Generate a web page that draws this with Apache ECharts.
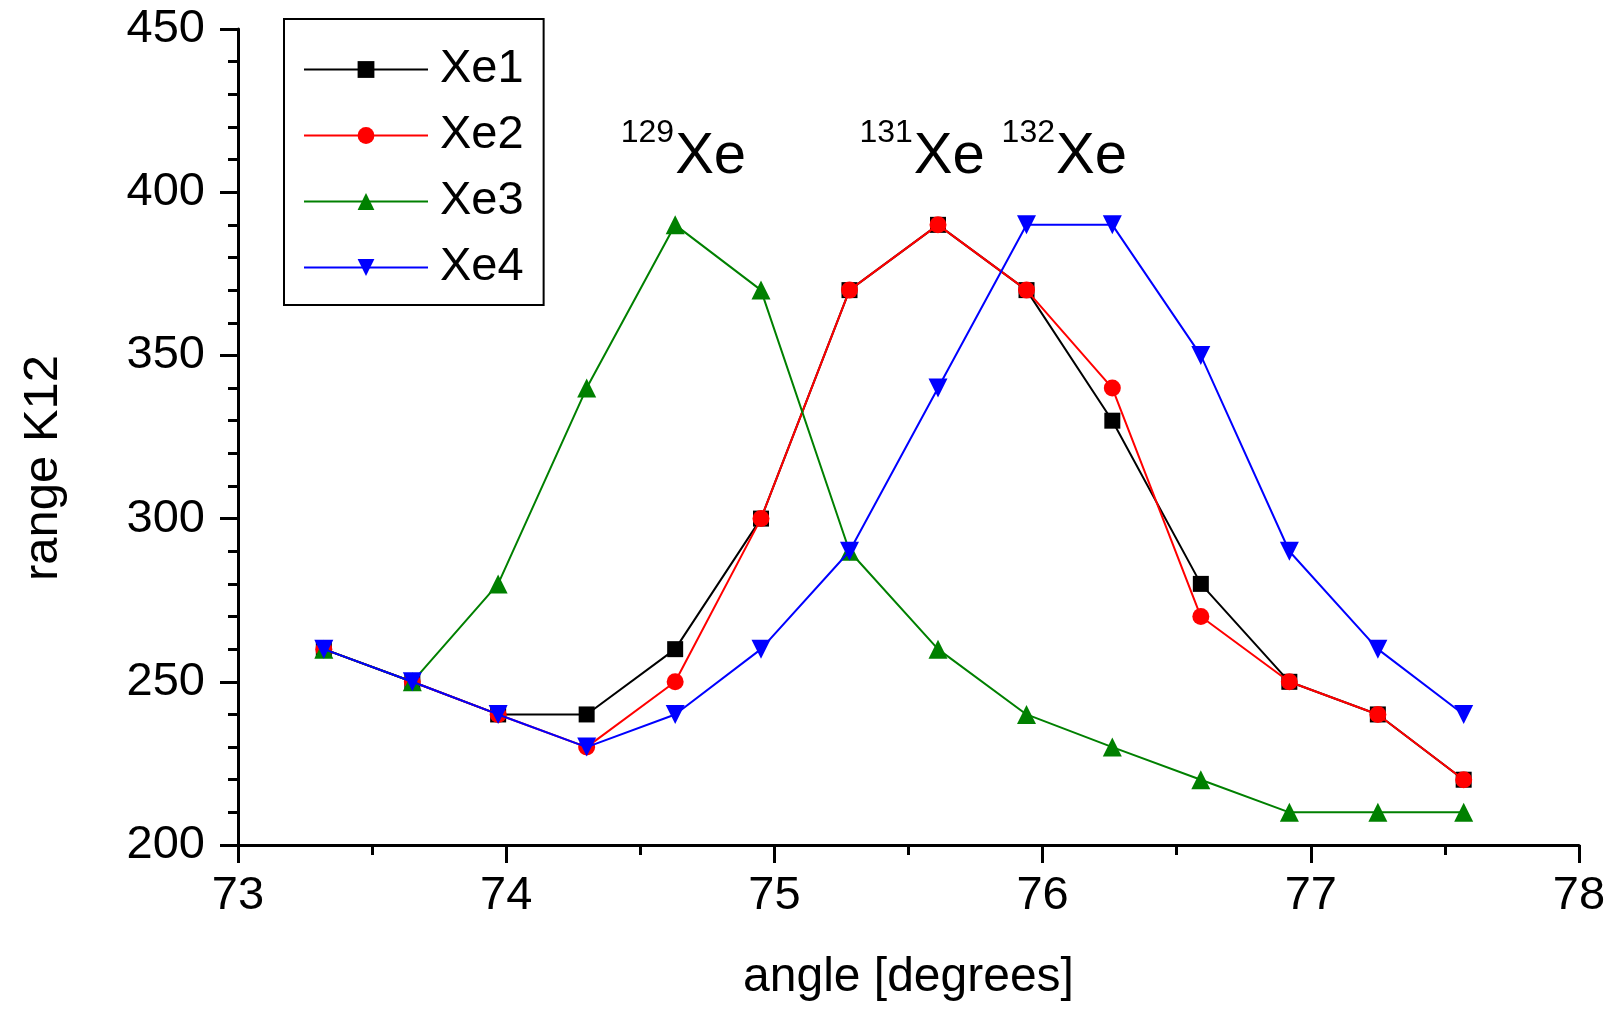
<!DOCTYPE html>
<html><head><meta charset="utf-8">
<script src="https://cdn.jsdelivr.net/npm/echarts@6/dist/echarts.min.js"></script>
<style>html,body{margin:0;padding:0;background:#fff}#c{width:1612px;height:1009px}</style>
</head><body><div id="c"></div>
<script>
// ---- data ----
const angles = [73.32, 73.65, 73.97, 74.30, 74.63, 74.95, 75.28, 75.61, 75.94, 76.26, 76.59, 76.92, 77.25, 77.57];
const xe1 = [260, 250, 240, 240, 260, 300, 370, 390, 370, 330, 280, 250, 240, 220];
const xe2 = [260, 250, 240, 230, 250, 300, 370, 390, 370, 340, 270, 250, 240, 220];
const xe3 = [260, 250, 280, 340, 390, 370, 290, 260, 240, 230, 220, 210, 210, 210];
const xe4 = [260, 250, 240, 230, 240, 260, 290, 340, 390, 390, 350, 290, 260, 240];
const seriesNames = ['Xe1', 'Xe2', 'Xe3', 'Xe4'];
const xAxisTitle = 'angle [degrees]';
const yAxisTitle = 'range K12';
const xRange = [73, 78];
const xStep = 1;
const yRange = [200, 450];
const yStep = 50;
const annoMass = ['129', '131', '132'];
const annoElement = 'Xe';
const annoX = [74.63, 75.52, 76.05];
const annoY = [405, 405, 405];

// ---- styles ----
const FONT = '"Liberation Sans", Arial, Helvetica, sans-serif';
const colors = ['#000000', '#ff0000', '#008000', '#0000ff'];
const symbols = ['rect', 'circle', 'triangle', 'triangle'];
const symbolRot = [0, 0, 0, 180];
const symbolSizes = [16, 17, 19, 19];
const allValues = [xe1, xe2, xe3, xe4];

const chart = echarts.init(document.getElementById('c'), null, {renderer: 'canvas'});

const series = seriesNames.map((name, i) => ({
  name: name,
  type: 'line',
  data: angles.map((a, j) => [a, allValues[i][j]]),
  symbol: symbols[i],
  symbolRotate: symbolRot[i],
  symbolSize: symbolSizes[i],
  showAllSymbol: true,
  lineStyle: {color: colors[i], width: 2},
  itemStyle: {color: colors[i]},
  emphasis: {disabled: true},
  animation: false,
  z: 2 + i
}));

const axisCommon = {
  axisLine: {show: true, onZero: false, lineStyle: {color: '#000', width: 3}},
  axisTick: {show: true, inside: false, length: 18, lineStyle: {color: '#000', width: 3}},
  minorTick: {show: true, length: 10, lineStyle: {color: '#000', width: 3}},
  splitLine: {show: false},
  nameLocation: 'middle'
};

chart.setOption({
  backgroundColor: '#fff',
  animation: false,
  grid: {left: 238, right: 33, top: 29, bottom: 164, containLabel: false},
  xAxis: Object.assign({}, axisCommon, {
    type: 'value', min: xRange[0], max: xRange[1], interval: xStep,
    minorTick: Object.assign({}, axisCommon.minorTick, {splitNumber: 2}),
    name: xAxisTitle, nameGap: 109,
    nameTextStyle: {fontSize: 48, fontFamily: FONT, color: '#000'},
    axisLabel: {fontSize: 47, fontFamily: FONT, color: '#000', margin: 28}
  }),
  yAxis: Object.assign({}, axisCommon, {
    type: 'value', min: yRange[0], max: yRange[1], interval: yStep,
    minorTick: Object.assign({}, axisCommon.minorTick, {splitNumber: 5}),
    name: yAxisTitle, nameGap: 170,
    nameTextStyle: {fontSize: 49, fontFamily: FONT, color: '#000', padding: [0, 62, 0, 0]},
    axisLabel: {fontSize: 47, fontFamily: FONT, color: '#000', margin: 33}
  }),
  legend: {
    orient: 'vertical', left: 284, top: 19,
    padding: [27, 20, 14, 19],
    itemWidth: 124, itemHeight: 21, itemGap: 19,
    borderColor: '#000', borderWidth: 2, borderRadius: 0,
    backgroundColor: '#fff',
    selectedMode: false,
    textStyle: {fontSize: 47, fontFamily: FONT, color: '#000', lineHeight: 47, padding: [0, 0, 0, 7]},
    data: seriesNames
  },
  series: series
});

// annotation labels anchored to data coordinates
const graphics = [];
annoMass.forEach((m, i) => {
  const p = chart.convertToPixel({gridIndex: 0}, [annoX[i], annoY[i]]);
  graphics.push({
    type: 'text', x: p[0], y: p[1] - 19, z: 100,
    style: {text: annoElement, fontSize: 58, fontFamily: FONT, fill: '#000', align: 'left', verticalAlign: 'middle'}
  });
  graphics.push({
    type: 'text', x: p[0] - 1, y: p[1] - 43, z: 100,
    style: {text: m, fontSize: 32, fontFamily: FONT, fill: '#000', align: 'right', verticalAlign: 'middle'}
  });
});
chart.setOption({graphic: graphics});
</script>
</body></html>
